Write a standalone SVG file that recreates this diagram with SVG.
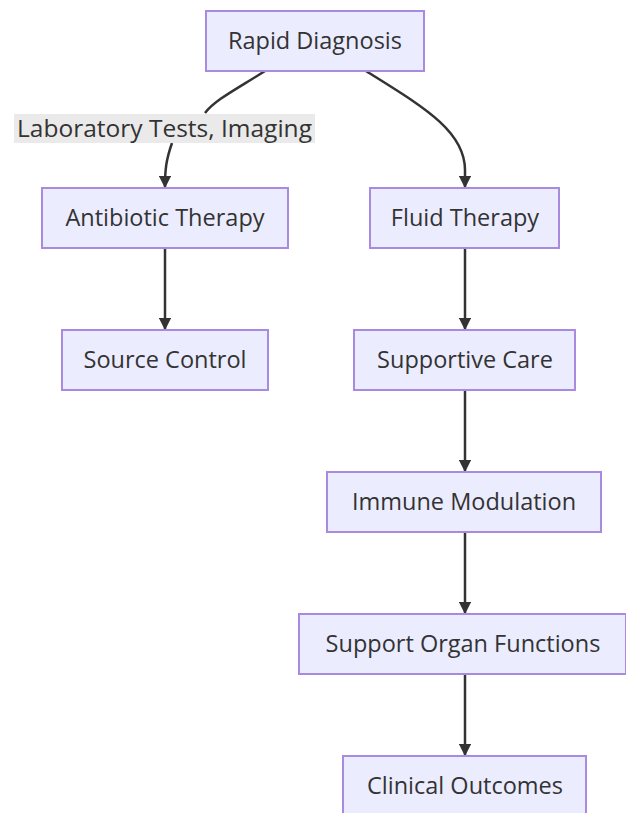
<svg xmlns="http://www.w3.org/2000/svg" width="626" height="813" viewBox="0 0 626 813">
<style>
.n rect{fill:#ECECFF;stroke:#A88BE0;stroke-width:2}
.n text{font-family:"Open Sans","DejaVu Sans",sans-serif;font-size:23.5px;fill:#333;text-anchor:middle;dominant-baseline:central}
.e path{fill:none;stroke:#333;stroke-width:2.5}
.lbl text{font-family:"Open Sans","DejaVu Sans",sans-serif;font-size:24.5px;fill:#333;text-anchor:middle;dominant-baseline:central}
</style>
<defs>
<marker id="arr" viewBox="0 0 10 10" refX="9" refY="5" markerWidth="5" markerHeight="5" orient="auto" markerUnits="strokeWidth">
<path d="M0,0 L10,5 L0,10 z" fill="#333"/>
</marker>
</defs>
<rect width="626" height="813" fill="#fff"/>
<g class="e">
<path d="M265,71 C235,90 215,100 205,113 M172,143 C166,160 165,170 165,187" marker-end="url(#arr)"/>
<path d="M366,71 C420,105 465,130 465,170 L465,187" marker-end="url(#arr)"/>
<path d="M165,248 L165,329" marker-end="url(#arr)"/>
<path d="M465,248 L465,329" marker-end="url(#arr)"/>
<path d="M465,390 L465,471" marker-end="url(#arr)"/>
<path d="M465,532 L465,613" marker-end="url(#arr)"/>
<path d="M465,674 L465,755" marker-end="url(#arr)"/>
</g>
<g class="lbl">
<rect x="14" y="114" width="301" height="29" fill="#E8E8E8" opacity="0.9"/>
<text x="164.5" y="127.5">Laboratory Tests, Imaging</text>
</g>
<g id="rapid" class="n"><rect x="206" y="11" width="218" height="60"/><text x="315" y="40">Rapid Diagnosis</text></g>
<g id="antibiotic" class="n"><rect x="42" y="188" width="246" height="60"/><text x="165" y="217">Antibiotic Therapy</text></g>
<g id="fluid" class="n"><rect x="370" y="188" width="189" height="60"/><text x="465" y="217">Fluid Therapy</text></g>
<g id="source" class="n"><rect x="62" y="330" width="206" height="60"/><text x="165" y="359">Source Control</text></g>
<g id="supportive" class="n"><rect x="354" y="330" width="221" height="60"/><text x="465" y="359">Supportive Care</text></g>
<g id="immune" class="n"><rect x="327" y="472" width="274" height="60"/><text x="464" y="501">Immune Modulation</text></g>
<g id="organ" class="n"><rect x="299" y="614" width="327" height="60"/><text x="463" y="643">Support Organ Functions</text></g>
<g id="outcomes" class="n"><rect x="343" y="756" width="243" height="60"/><text x="465" y="785">Clinical Outcomes</text></g>
</svg>
